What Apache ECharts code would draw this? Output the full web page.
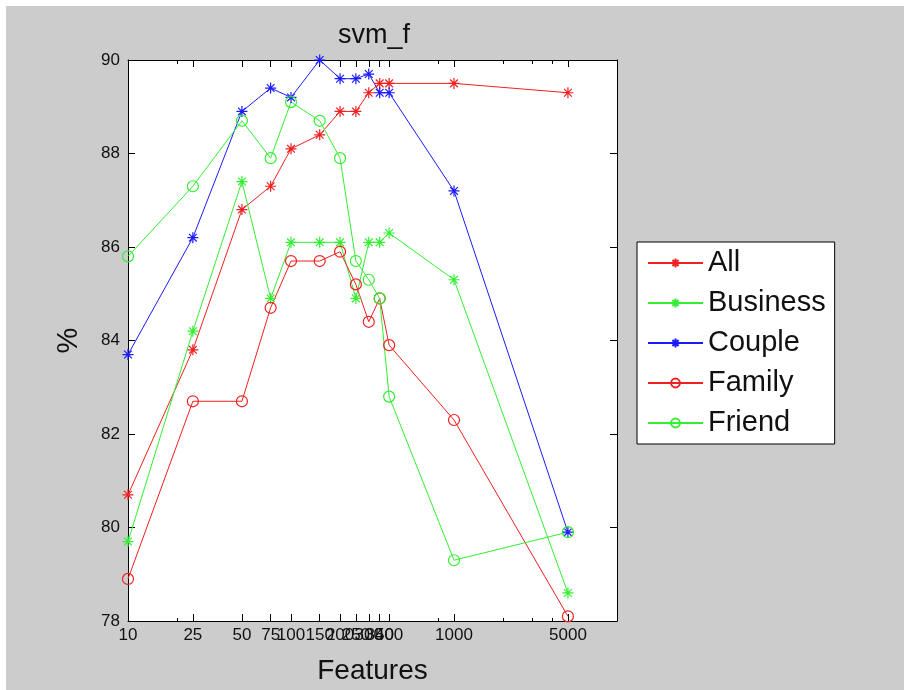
<!DOCTYPE html>
<html>
<head>
<meta charset="utf-8">
<script src="https://cdn.jsdelivr.net/npm/echarts@6/dist/echarts.min.js"></script>
<style>
  html, body { margin: 0; padding: 0; background: #ffffff; }
  #chart { width: 908px; height: 690px; }
</style>
</head>
<body>
<div id="chart"></div>
<script>
// Number of features used by each classifier run
const features = [10, 25, 50, 75, 100, 150, 200, 250, 300, 350, 400, 1000, 5000];

// Score (%) per feature count for each group
const allScores      = [80.7, 83.8, 86.8, 87.3, 88.1, 88.4, 88.9, 88.9, 89.3, 89.5, 89.5, 89.5, 89.3];
const businessScores = [79.7, 84.2, 87.4, 84.9, 86.1, 86.1, 86.1, 84.9, 86.1, 86.1, 86.3, 85.3, 78.6];
const coupleScores   = [83.7, 86.2, 88.9, 89.4, 89.2, 90.0, 89.6, 89.6, 89.7, 89.3, 89.3, 87.2, 79.9];
const familyScores   = [78.9, 82.7, 82.7, 84.7, 85.7, 85.7, 85.9, 85.2, 84.4, 84.9, 83.9, 82.3, 78.1];
const friendScores   = [85.8, 87.3, 88.7, 87.9, 89.1, 88.7, 87.9, 85.7, 85.3, 84.9, 82.8, 79.3, 79.9];

const seriesNames = ['All', 'Business', 'Couple', 'Family', 'Friend'];

// Axis ticks
const xMajorTicks = [10, 25, 50, 75, 100, 150, 200, 250, 300, 350, 400, 1000, 5000];
const xMinorTicks = [20, 800, 2000, 3000, 4000];
const yTicks = [78, 80, 82, 84, 86, 88, 90];

const RED = '#f02020', GREEN = '#33ee33', BLUE = '#1a1aff';
const FONT = 'Liberation Sans, Arial, sans-serif';
const ASTERISK = 'path://M5 0L5 10M0 5L10 5M1.5 1.5L8.5 8.5M1.5 8.5L8.5 1.5';

function pairs(values) {
  return features.map((f, i) => [f, values[i]]);
}

function makeSeries(name, values, color, marker) {
  return {
    name: name,
    type: 'line',
    xAxisIndex: 0,
    yAxisIndex: 0,
    data: pairs(values),
    symbol: marker === '*' ? ASTERISK : 'circle',
    symbolSize: 11,
    showAllSymbol: true,
    lineStyle: { color: color, width: 1 },
    itemStyle: { color: 'rgba(255,255,255,0)', borderColor: color, borderWidth: 1.2 },
    emphasis: { disabled: true }
  };
}

const chart = echarts.init(document.getElementById('chart'), null, { renderer: 'canvas' });

const gridRect = { left: 128, top: 60, right: 291, bottom: 68 };

const option = {
  animation: false,
  backgroundColor: '#ffffff',
  graphic: [{
    type: 'rect', z: -10, silent: true,
    shape: { x: 6, y: 6, width: 898, height: 684 },
    style: { fill: '#cccccc' }
  }],
  title: {
    text: 'svm_f',
    left: 369,
    top: 17,
    textAlign: 'center',
    textStyle: { fontFamily: FONT, fontSize: 27, fontWeight: 'normal', color: '#111' }
  },
  legend: {
    orient: 'vertical',
    left: 637,
    top: 242,
    padding: [6, 9, 6, 10],
    itemGap: 10,
    itemWidth: 55,
    itemHeight: 11,
    backgroundColor: '#ffffff',
    borderColor: '#000000',
    borderWidth: 1,
    textStyle: { fontFamily: FONT, fontSize: 29, color: '#111', lineHeight: 30 },
    data: seriesNames
  },
  grid: [
    Object.assign({ show: true, backgroundColor: '#ffffff', borderWidth: 0 }, gridRect),
    Object.assign({ show: false }, gridRect)
  ],
  xAxis: [
    {
      type: 'log', gridIndex: 0, position: 'bottom', min: 10, max: 10000,
      axisLine: { lineStyle: { color: '#000', width: 1 } },
      axisTick: { inside: true, length: 7, customValues: xMajorTicks, lineStyle: { color: '#000' } },
      axisLabel: {
        customValues: xMajorTicks, margin: 6, color: '#111',
        fontFamily: FONT, fontSize: 17, formatter: v => String(v)
      },
      splitLine: { show: false },
      name: 'Features', nameLocation: 'middle', nameGap: 36,
      nameTextStyle: { fontFamily: FONT, fontSize: 28, color: '#111' }
    },
    {
      type: 'log', gridIndex: 0, position: 'top', min: 10, max: 10000,
      axisLine: { lineStyle: { color: '#000', width: 1 } },
      axisTick: { inside: true, length: 7, customValues: xMajorTicks, lineStyle: { color: '#000' } },
      axisLabel: { show: false },
      splitLine: { show: false }
    },
    {
      type: 'log', gridIndex: 1, position: 'bottom', min: 10, max: 10000,
      axisLine: { show: false },
      axisTick: { inside: true, length: 4, customValues: xMinorTicks, lineStyle: { color: '#000' } },
      axisLabel: { show: false },
      splitLine: { show: false }
    },
    {
      type: 'log', gridIndex: 1, position: 'top', min: 10, max: 10000,
      axisLine: { show: false },
      axisTick: { inside: true, length: 4, customValues: xMinorTicks, lineStyle: { color: '#000' } },
      axisLabel: { show: false },
      splitLine: { show: false }
    }
  ],
  yAxis: [
    {
      type: 'value', gridIndex: 0, position: 'left', min: 78, max: 90, interval: 2,
      axisLine: { show: true, lineStyle: { color: '#000', width: 1 } },
      axisTick: { show: true, inside: true, length: 7, customValues: yTicks, lineStyle: { color: '#000' } },
      axisLabel: { customValues: yTicks, margin: 8, color: '#111', fontFamily: FONT, fontSize: 17 },
      splitLine: { show: false },
      name: '%', nameLocation: 'middle', nameGap: 45, nameRotate: 90,
      nameTextStyle: { fontFamily: FONT, fontSize: 29, color: '#111' }
    },
    {
      type: 'value', gridIndex: 0, position: 'right', min: 78, max: 90, interval: 2,
      axisLine: { show: true, lineStyle: { color: '#000', width: 1 } },
      axisTick: { show: true, inside: true, length: 7, lineStyle: { color: '#000' } },
      axisLabel: { show: false },
      splitLine: { show: false }
    },
    {
      type: 'value', gridIndex: 1, min: 78, max: 90, show: false
    }
  ],
  series: [
    makeSeries('All', allScores, RED, '*'),
    makeSeries('Business', businessScores, GREEN, '*'),
    makeSeries('Couple', coupleScores, BLUE, '*'),
    makeSeries('Family', familyScores, RED, 'o'),
    makeSeries('Friend', friendScores, GREEN, 'o')
  ]
};

chart.setOption(option);
</script>
</body>
</html>
